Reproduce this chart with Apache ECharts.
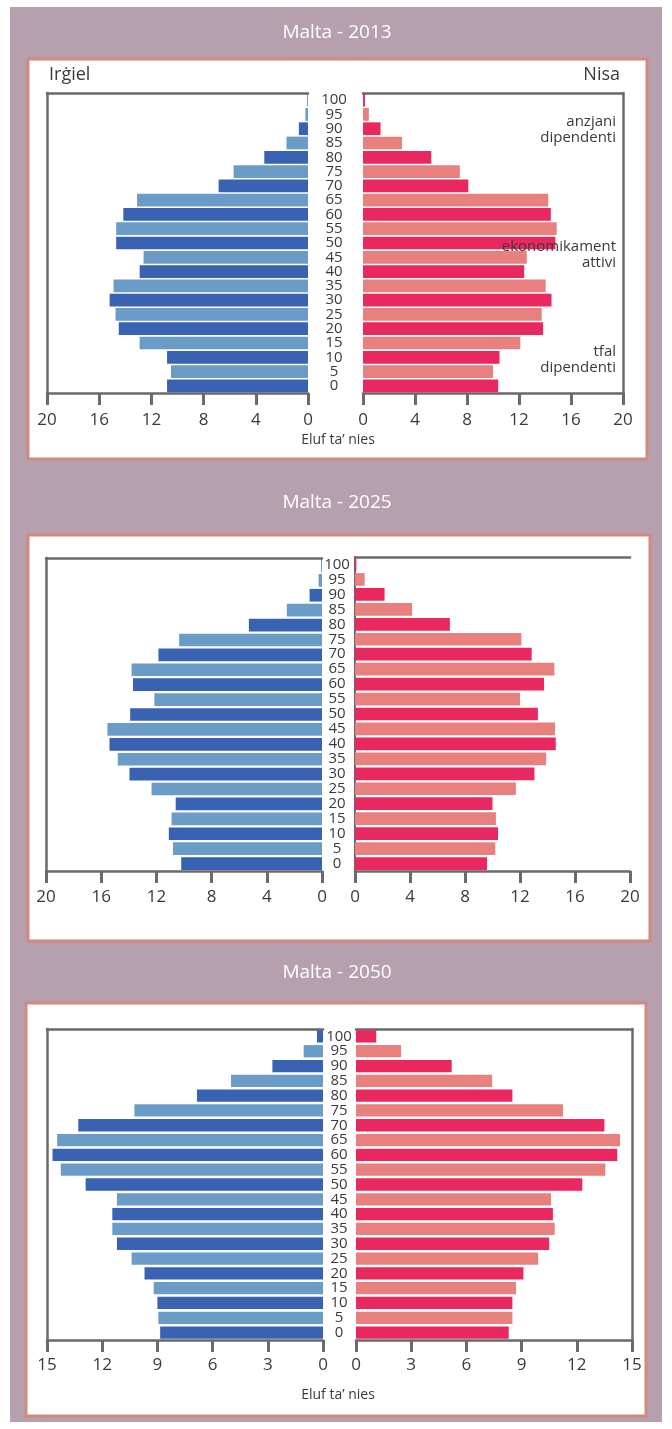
<!DOCTYPE html>
<html>
<head>
<meta charset="utf-8">
<script src="https://cdn.jsdelivr.net/npm/echarts@6/dist/echarts.min.js"></script>
<style>
  html, body { margin: 0; padding: 0; background: #ffffff; }
  #chart { width: 672px; height: 1429px; }
</style>
</head>
<body>
<div id="chart"></div>
<script>
// Age groups, bottom to top
const ages = ['0','5','10','15','20','25','30','35','40','45','50','55','60','65','70','75','80','85','90','95','100'];

// Population in thousands per 5-year age group (0 … 100)
const male2013   = [10.8, 10.5, 10.8, 12.9, 14.5, 14.75, 15.2, 14.9, 12.9, 12.6, 14.7, 14.7, 14.15, 13.1, 6.85, 5.7, 3.35, 1.65, 0.7, 0.2, 0.05];
const female2013 = [10.4, 10.0, 10.5, 12.1, 13.85, 13.75, 14.5, 14.05, 12.4, 12.6, 14.8, 14.9, 14.45, 14.25, 8.1, 7.45, 5.25, 3.0, 1.35, 0.45, 0.15];
const male2025   = [10.2, 10.8, 11.1, 10.9, 10.6, 12.35, 13.95, 14.8, 15.4, 15.55, 13.9, 12.15, 13.7, 13.8, 11.85, 10.35, 5.3, 2.55, 0.9, 0.25, 0.05];
const female2025 = [9.6, 10.2, 10.4, 10.25, 10.0, 11.7, 13.05, 13.9, 14.6, 14.55, 13.3, 12.0, 13.75, 14.5, 12.85, 12.1, 6.9, 4.15, 2.15, 0.7, 0.1];
const male2050   = [8.85, 8.95, 9.0, 9.2, 9.7, 10.4, 11.2, 11.45, 11.45, 11.2, 12.9, 14.25, 14.7, 14.45, 13.3, 10.25, 6.85, 5.0, 2.75, 1.05, 0.33];
const female2050 = [8.3, 8.5, 8.5, 8.7, 9.1, 9.9, 10.5, 10.8, 10.7, 10.6, 12.3, 13.55, 14.2, 14.35, 13.5, 11.25, 8.5, 7.4, 5.2, 2.45, 1.1];

// Axis scales
const ticks2013 = { max: 20, step: 4 };
const ticks2025 = { max: 20, step: 4 };
const ticks2050 = { max: 15, step: 3 };

const titles = ['Malta - 2013', 'Malta - 2025', 'Malta - 2050'];
const sideLabels = ['Irġiel', 'Nisa'];
const unitLabel = 'Eluf ta’ nies';
const notes = ['anzjani\ndipendenti', 'ekonomikament\nattivi', 'tfal\ndipendenti'];

const FONT = '"Open Sans", "Noto Sans", sans-serif';
const TXT = '#3a3a3a';
const FRAME = '#6a6a6a';
const MALE = ['#3a62b3', '#6b9cc8'];
const FEMALE = ['#e8285f', '#e8807e'];

// Layout of each pyramid (male grid, female grid)
const panels = [
  { male: male2013, female: female2013, ticks: ticks2013,
    m: { left: 47, top: 93, width: 261, height: 300 },
    f: { left: 363, top: 93, width: 260, height: 300 },
    ageMargin: 29, tickMargin: 19, gap: '11%', femaleFrame: true, femaleInner: false },
  { male: male2025, female: female2025, ticks: ticks2025,
    m: { left: 46, top: 558, width: 276, height: 313 },
    f: { left: 355, top: 557, width: 275, height: 314 },
    ageMargin: 18, tickMargin: 18, gap: '15%', femaleFrame: false, femaleInner: true },
  { male: male2050, female: female2050, ticks: ticks2050,
    m: { left: 47, top: 1029, width: 276, height: 311 },
    f: { left: 356, top: 1029, width: 276, height: 311 },
    ageMargin: 17, tickMargin: 17, gap: '17%', femaleFrame: true, femaleInner: false }
];

const grid = [], xAxis = [], yAxis = [], series = [];
const lineStyle = { color: FRAME, width: 2.5 };

panels.forEach(p => {
  ['m', 'f'].forEach(side => {
    const isMale = side === 'm';
    const g = grid.length;
    grid.push(Object.assign({ containLabel: false }, p[side]));

    // bottom value axis
    const xMain = xAxis.length;
    xAxis.push({
      gridIndex: g, type: 'value', min: 0, max: p.ticks.max, interval: p.ticks.step,
      inverse: isMale, position: 'bottom',
      axisLine: { show: true, onZero: false, lineStyle },
      axisTick: { show: true, length: 12, lineStyle: { color: FRAME, width: 3 } },
      axisLabel: { show: true, margin: p.tickMargin, fontSize: 17, color: TXT, fontFamily: FONT },
      splitLine: { show: false }
    });
    // top frame line
    xAxis.push({
      gridIndex: g, type: 'value', min: 0, max: p.ticks.max, inverse: isMale, position: 'top',
      axisLine: { show: true, onZero: false, lineStyle },
      axisTick: { show: false }, axisLabel: { show: false }, splitLine: { show: false }
    });

    // category axis (ages)
    const yCat = yAxis.length;
    yAxis.push({
      gridIndex: g, type: 'category', data: ages, position: isMale ? 'right' : 'left',
      axisLine: { show: !isMale && p.femaleInner, onZero: false, lineStyle: { color: FRAME, width: 2 } },
      axisTick: { show: false },
      axisLabel: {
        show: !isMale, interval: 0, align: 'center', margin: p.ageMargin,
        fontSize: 15, color: TXT, fontFamily: FONT
      },
      splitLine: { show: false }
    });
    // outer frame line
    yAxis.push({
      gridIndex: g, type: 'value', min: 0, max: 1, position: isMale ? 'left' : 'right',
      axisLine: { show: isMale || p.femaleFrame, onZero: false, lineStyle },
      axisTick: { show: false }, axisLabel: { show: false }, splitLine: { show: false }
    });

    const colors = isMale ? MALE : FEMALE;
    series.push({
      type: 'bar', xAxisIndex: xMain, yAxisIndex: yCat,
      data: isMale ? p.male : p.female,
      barCategoryGap: p.gap,
      itemStyle: { color: prm => colors[prm.dataIndex % 2] },
      silent: true
    });
  });
});

// Page decoration: backgrounds, titles and captions
const panelBoxes = [
  { x: 28, y: 59, w: 619, h: 400, ty: 33 },
  { x: 28, y: 535, w: 622, h: 406, ty: 503 },
  { x: 26, y: 1003, w: 620, h: 413, ty: 973 }
];

function text(str, x, y, size, color, align, extra) {
  return Object.assign({
    type: 'text', z: 100,
    style: {
      text: str, x, y, fill: color,
      font: size + 'px ' + FONT,
      textAlign: align, align: align,
      textVerticalAlign: 'middle', verticalAlign: 'middle'
    }
  }, extra || {});
}

const graphic = [
  { type: 'rect', z: -100, shape: { x: 10, y: 7, width: 652, height: 1415 }, style: { fill: '#b6a0ae' } }
];
panelBoxes.forEach((b, i) => {
  graphic.push({ type: 'rect', z: -90, shape: { x: b.x, y: b.y, width: b.w, height: b.h },
    style: { fill: '#ffffff', stroke: '#d38a7e', lineWidth: 3 } });
  graphic.push(text(titles[i], 337, b.ty, 19, '#ffffff', 'center'));
});
graphic.push(text(sideLabels[0], 49, 75, 18, TXT, 'left'));
graphic.push(text(sideLabels[1], 620, 75, 18, TXT, 'right'));
graphic.push(text(unitLabel, 338, 440, 14, TXT, 'center'));
graphic.push(text(unitLabel, 338, 1395, 14, TXT, 'center'));
[130, 255, 360].forEach((y, i) => {
  const t = text(notes[i], 616, y, 15, TXT, 'right');
  t.style.lineHeight = 16;
  graphic.push(t);
});

const chart = echarts.init(document.getElementById('chart'), null, { renderer: 'canvas' });
chart.setOption({
  animation: false,
  backgroundColor: '#ffffff',
  textStyle: { fontFamily: FONT },
  grid, xAxis, yAxis, series, graphic
});
</script>
</body>
</html>
